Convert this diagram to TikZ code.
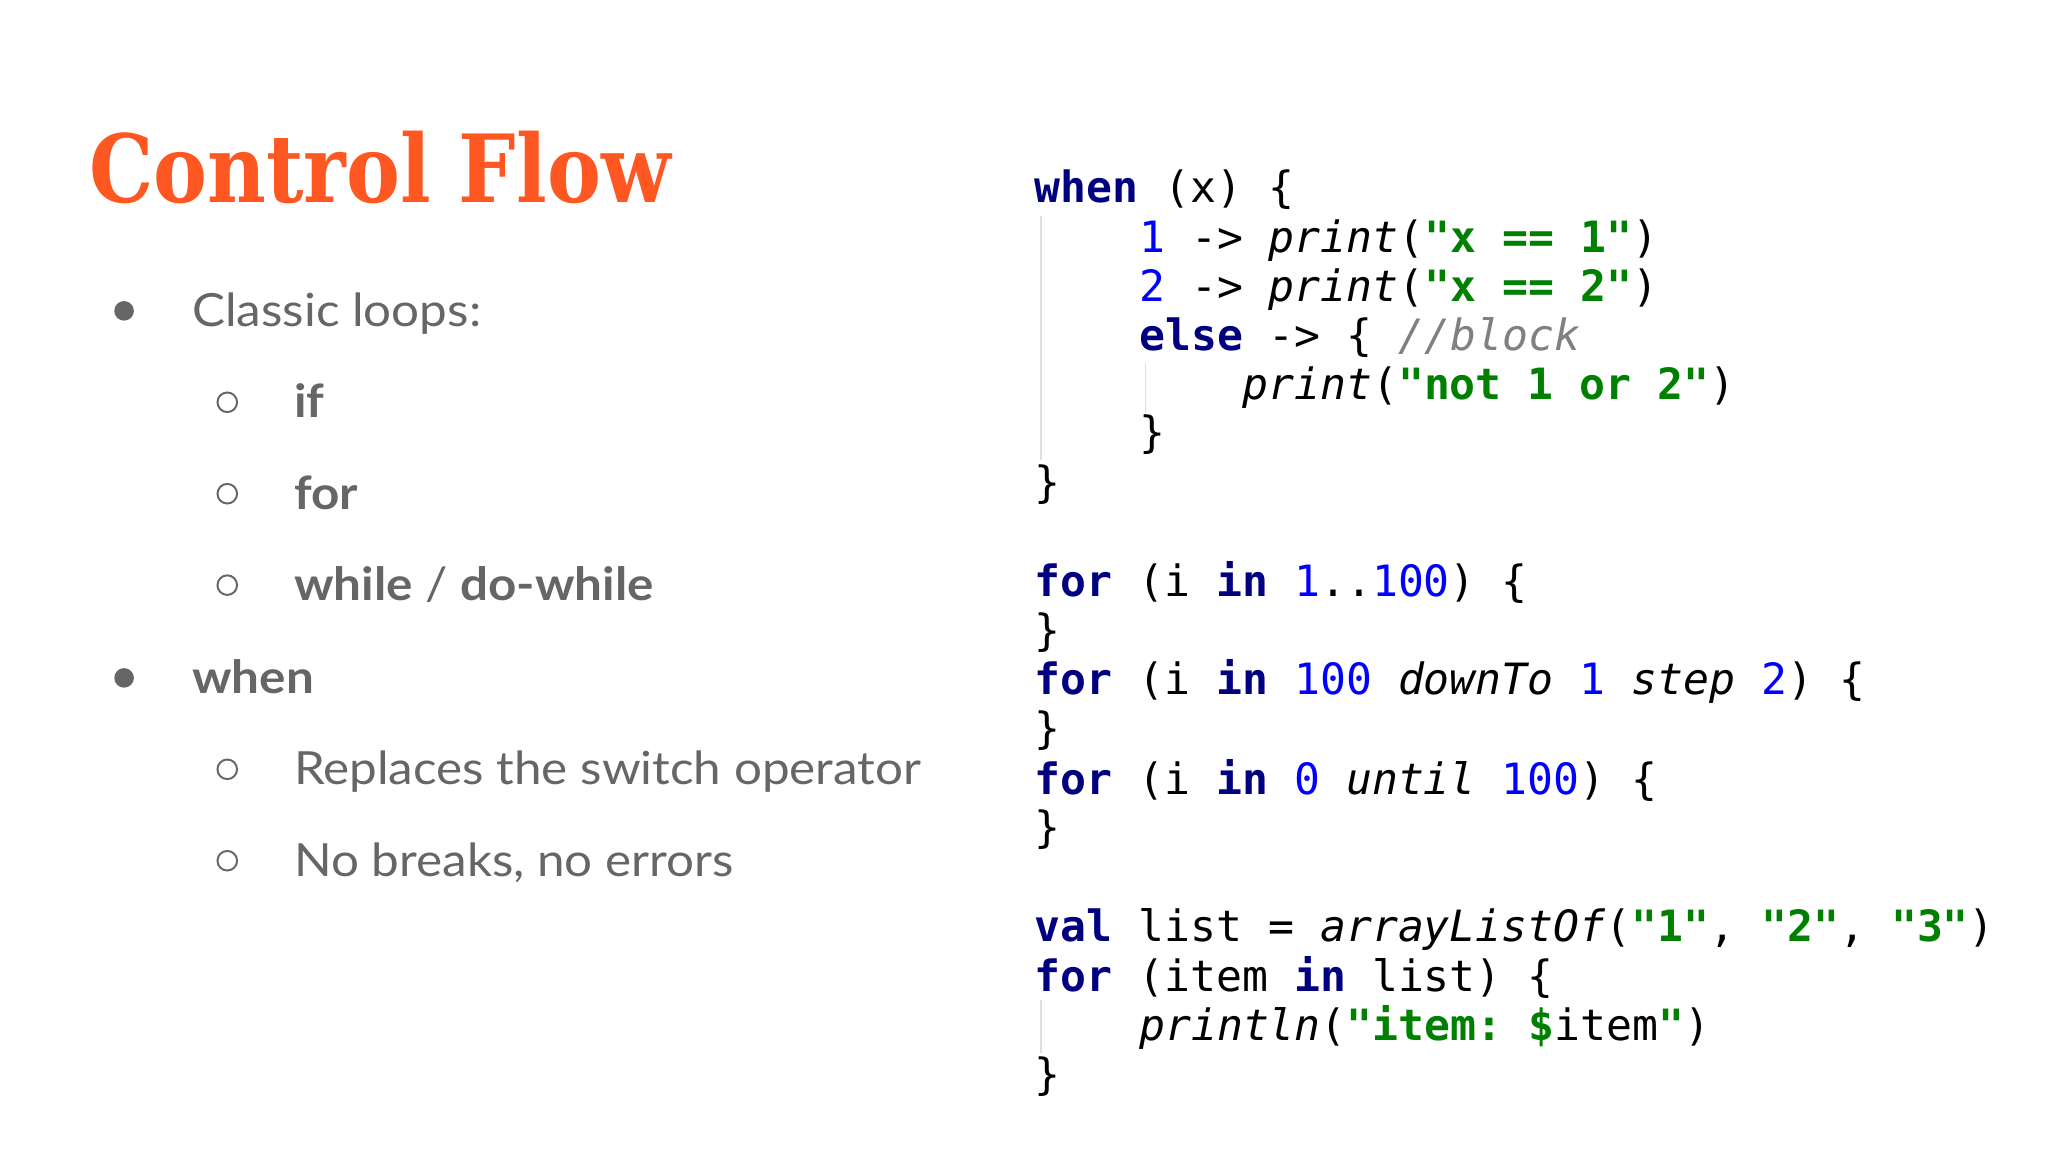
\documentclass[tikz,border=0pt]{standalone}
\usepackage{fontspec}
\setmainfont{Lato}
\setmonofont{DejaVu Sans Mono}
\newfontfamily\titlefont{DejaVu Serif}
\definecolor{ttl}{HTML}{FF5722}
\definecolor{txt}{HTML}{666666}
\definecolor{kwc}{HTML}{000080}
\definecolor{numc}{HTML}{0000FF}
\definecolor{strc}{HTML}{008000}
\definecolor{cmc}{HTML}{808080}
\newcommand{\kw}[1]{{\bfseries\color{kwc}#1}}
\newcommand{\nm}[1]{{\color{numc}#1}}
\newcommand{\st}[1]{{\bfseries\color{strc}#1}}
\newcommand{\fn}[1]{{\itshape #1}}
\newcommand{\cmt}[1]{{\itshape\color{cmc}#1}}
\begin{document}
\begin{tikzpicture}[x=1pt,y=-1pt,
  bul/.style={txt,font=\fontsize{35}{40}\selectfont,anchor=base west,inner sep=0,transform shape,xscale=1.08},
  code/.style={font=\ttfamily\fontsize{33}{36}\selectfont,anchor=base west,inner sep=0},
  dot/.style={fill=txt,draw=none,circle,minimum size=15pt,inner sep=0},
  ring/.style={draw=txt,line width=1.5pt,circle,minimum size=15pt,inner sep=0},
  guide/.style={draw=black!12,line width=1pt}]
\useasboundingbox (0,0) rectangle (1568,882);
\node[ttl,font=\titlefont\bfseries\fontsize{72}{80}\selectfont,anchor=base west,inner sep=0,transform shape,xscale=0.86] (title) at (68,155) {Control Flow};
% bullets
\node[dot] (d1) at (95,238) {};
\node[bul] (b1) at (147,250) {Classic loops:};
\node[ring] (r1) at (174,308) {};
\node[bul,font=\bfseries\fontsize{35}{40}\selectfont] (b2) at (225,320) {if};
\node[ring] (r2) at (174,378) {};
\node[bul,font=\bfseries\fontsize{35}{40}\selectfont] (b3) at (225,390) {for};
\node[ring] (r3) at (174,448) {};
\node[bul] (b4) at (225,460) {\textbf{while} / \textbf{do-while}};
\node[dot] (d2) at (95,519) {};
\node[bul,font=\bfseries\fontsize{35}{40}\selectfont] (b5) at (147,531) {when};
\node[ring] (r4) at (174,589) {};
\node[bul] (b6) at (225,601) {Replaces the switch operator};
\node[ring] (r5) at (174,659) {};
\node[bul] (b7) at (225,671) {No breaks, no errors};
% guides
\coordinate (g1a) at (797,165); \coordinate (g1b) at (797,352);
\coordinate (g2a) at (877,278); \coordinate (g2b) at (877,316);
\coordinate (g3a) at (797,766); \coordinate (g3b) at (797,806);
\draw[guide] (g1a) -- (g1b); \draw[guide] (g2a) -- (g2b); \draw[guide] (g3a) -- (g3b);
% code
\node[code] (c1) at (792,155) {\kw{when} (x) \{};
\node[code] (c2) at (872,193) {\nm{1} -> \fn{print}(\st{"x == 1"})};
\node[code] (c3) at (872,231) {\nm{2} -> \fn{print}(\st{"x == 2"})};
\node[code] (c4) at (872,268) {\kw{else} -> \{ \cmt{//block}};
\node[code] (c5) at (951,306) {\fn{print}(\st{"not 1 or 2"})};
\node[code] (c6) at (872,343) {\}};
\node[code] (c7) at (792,381) {\}};
\node[code] (c8) at (792,457) {\kw{for} (i \kw{in} \nm{1}..\nm{100}) \{};
\node[code] (c9) at (792,494) {\}};
\node[code] (c10) at (792,532) {\kw{for} (i \kw{in} \nm{100} \fn{downTo} \nm{1} \fn{step} \nm{2}) \{};
\node[code] (c11) at (792,569) {\}};
\node[code] (c12) at (792,608) {\kw{for} (i \kw{in} \nm{0} \fn{until} \nm{100}) \{};
\node[code] (c13) at (792,645) {\}};
\node[code] (c14) at (792,721) {\kw{val} list = \fn{arrayListOf}(\st{"1"}, \st{"2"}, \st{"3"})};
\node[code] (c15) at (792,759) {\kw{for} (item \kw{in} list) \{};
\node[code] (c16) at (872,797) {\fn{println}(\st{"item: \$}item\st{"})};
\node[code] (c17) at (792,834) {\}};
\end{tikzpicture}
\end{document}
